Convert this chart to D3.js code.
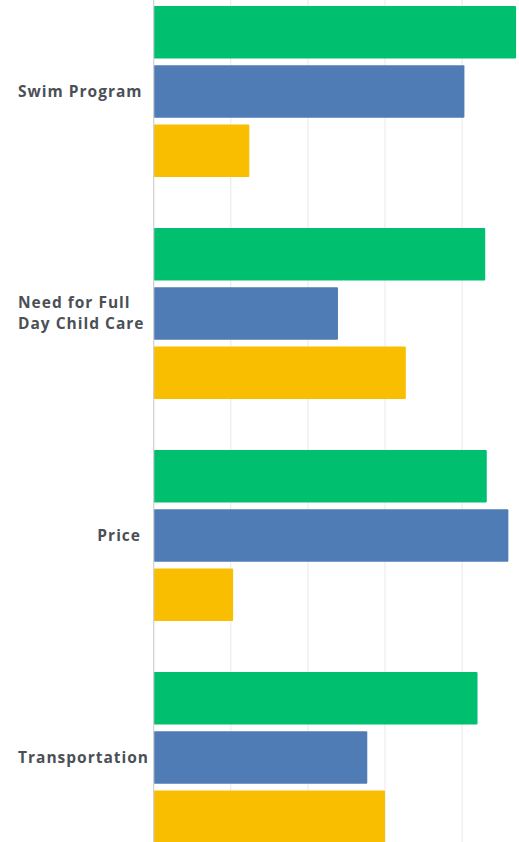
<!DOCTYPE html>
<html>
<head>
<meta charset="utf-8">
<script src="https://cdn.jsdelivr.net/npm/d3@7"></script>
<style>
  html, body { margin: 0; padding: 0; background: #fff; overflow: hidden; }
  svg { display: block; }
</style>
</head>
<body>
<svg id="chart" width="519" height="842"></svg>
<script>
// Categories (each may span two lines)
const categories = [
  ["Swim Program"],
  ["Need for Full", "Day Child Care"],
  ["Price"],
  ["Transportation"]
];
const seriesKeys = ["Response A", "Response B", "Response C"];
const seriesColors = ["#00bf6f", "#507cb6", "#f9be00"];

// Values per series, one per category (percent)
const responseA = [47.0, 43.0, 43.2, 42.0];
const responseB = [40.3, 23.9, 46.0, 27.7];
const responseC = [12.4, 32.7, 10.3, 30.0];
const seriesValues = [responseA, responseB, responseC];

const gridTicks = [0, 10, 20, 30, 40, 50];

const width = 519, height = 842;
const axisX = 153.7;
const svg = d3.select("#chart");

const x = d3.scaleLinear().domain([0, 50]).range([axisX, axisX + 5 * 77.1]);

const y0 = d3.scaleBand()
  .domain(d3.range(categories.length))
  .range([6, 6 + categories.length * 222 - 51])
  .paddingInner(51 / 222)
  .paddingOuter(0);

const y1 = d3.scaleBand()
  .domain(seriesKeys)
  .range([0, y0.bandwidth()])
  .paddingInner(0.114)
  .paddingOuter(0);

// vertical gridlines
svg.append("g")
  .selectAll("line")
  .data(gridTicks.filter(d => d > 0))
  .join("line")
  .attr("x1", d => x(d)).attr("x2", d => x(d))
  .attr("y1", 0).attr("y2", height)
  .attr("stroke", "#e8e8e8")
  .attr("stroke-width", 1);

// bars
const groups = svg.append("g")
  .selectAll("g")
  .data(categories.map((c, i) => i))
  .join("g")
  .attr("transform", i => `translate(0,${y0(i)})`);

groups.selectAll("rect")
  .data(i => seriesKeys.map((k, s) => ({ key: k, s, value: seriesValues[s][i] })))
  .join("rect")
  .attr("x", x(0))
  .attr("y", d => y1(d.key))
  .attr("width", d => x(d.value) - x(0))
  .attr("height", y1.bandwidth())
  .attr("rx", 1)
  .attr("fill", d => seriesColors[d.s]);

// baseline axis
svg.append("line")
  .attr("x1", axisX).attr("x2", axisX)
  .attr("y1", 0).attr("y2", height)
  .attr("stroke", "#cfcfcf")
  .attr("stroke-width", 1.2);

// category labels, centred on the middle bar of each group
const labelRight = 141;
const labelMinLeft = 18;
const lineH = 21;
svg.append("g")
  .selectAll("text")
  .data(categories.map((c, i) => ({ lines: c, i })))
  .join("text")
  .attr("font-family", "'Open Sans', sans-serif")
  .attr("font-weight", 700)
  .attr("font-size", 15.5)
  .attr("letter-spacing", 1.0)
  .attr("fill", "#4b5056")
  .attr("text-anchor", "end")
  .each(function (d) {
    const t = d3.select(this);
    const cy = y0(d.i) + y1(seriesKeys[1]) + y1.bandwidth() / 2;
    const startY = cy - (d.lines.length - 1) * lineH / 2;
    d.lines.forEach((ln, j) => {
      t.append("tspan")
        .attr("x", labelRight)
        .attr("y", startY + j * lineH)
        .attr("dy", "0.35em")
        .text(ln);
    });
    // labels too wide for the margin start at the left edge instead
    const w = this.getBBox().width;
    if (labelRight - w < labelMinLeft) {
      t.attr("text-anchor", "start");
      t.selectAll("tspan").attr("x", labelMinLeft);
    }
  });
</script>
</body>
</html>
